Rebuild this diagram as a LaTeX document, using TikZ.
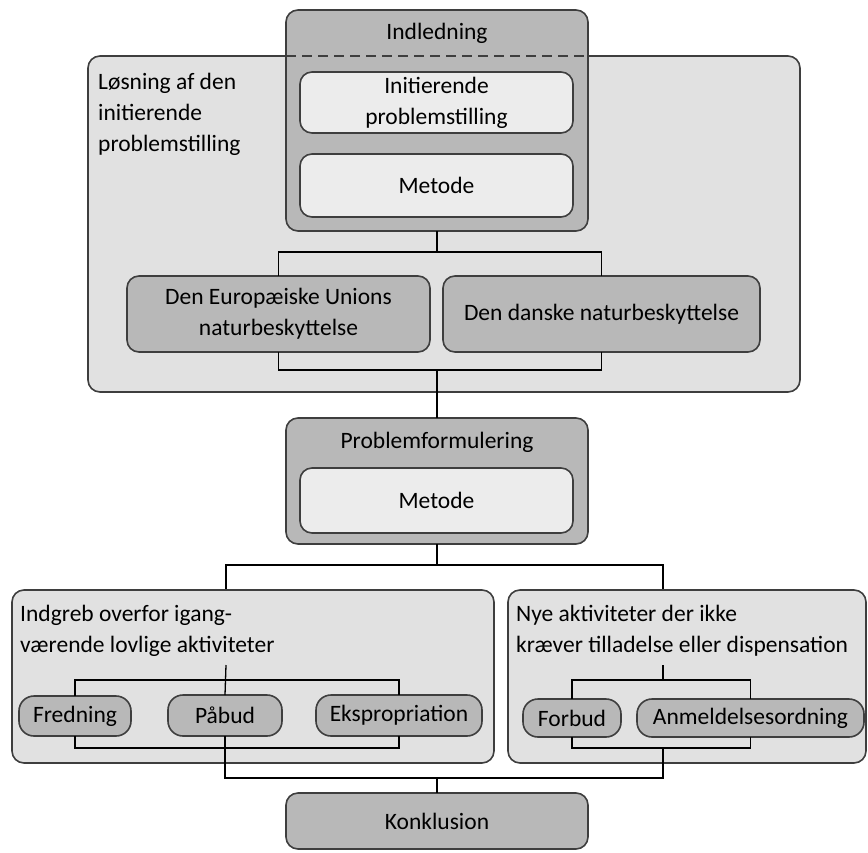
\documentclass[tikz,border=0pt]{standalone}
\usepackage{fontspec}
\setmainfont{Carlito}
\usepackage{tikz}
\usetikzlibrary{fit}
\definecolor{boxmid}{RGB}{184,184,184}
\definecolor{boxlight}{RGB}{225,225,225}
\definecolor{boxpale}{RGB}{236,236,236}
\definecolor{boxline}{RGB}{62,62,62}

\begin{document}
\begin{tikzpicture}[x=1pt,y=-1pt,
		box/.style={draw=boxline,line width=1.6pt,rounded corners=12pt,inner sep=0pt,outer sep=0pt},
		midbox/.style={box,fill=boxmid},
		lightbox/.style={box,fill=boxlight},
		palebox/.style={box,fill=boxpale},
		pill/.style={box,fill=boxmid,rounded corners=15pt},
		txt/.style={inner sep=0pt,align=center,font=\fontsize{23.5}{31}\selectfont},
		link/.style={line width=1.3pt,black}]
	\useasboundingbox (0,0) rectangle (868,852);
	% upper part
	\node[lightbox, fit={(88,56) (800,392)}] (loesning) {};
	\node[txt,anchor=north west,align=left] (loesningtxt) at (98,73) {Løsning af den\\initierende\\problemstilling};
	\node[midbox, fit={(286,10) (588,231)}] (indl) {};
	\draw[boxline,line width=1.6pt,dash pattern=on 10pt off 6pt] (indl.west |- loesning.north) -- (indl.east |- loesning.north);
	\node[txt] (indltxt) at (437,33) {Indledning};
	\node[palebox, fit={(300,72) (573,133)}] (init) {};
	\node[txt] (inittxt) at (init.center) {Initierende\\problemstilling};
	\node[palebox, fit={(300,154) (573,217)}] (metodeA) {};
	\node[txt] (metodeAtxt) at (metodeA.center) {Metode};
	\node[midbox, fit={(127,276) (430,352)}] (eu) {};
	\node[txt] (eutxt) at (eu.center) {Den Europæiske Unions\\naturbeskyttelse};
	\node[midbox, fit={(443,276) (760,352)}] (dk) {};
	\node[txt] (dktxt) at (dk.center) {Den danske naturbeskyttelse};
	\coordinate (forkA) at (437,252);
	\coordinate (joinA) at (437,370);
	\draw[link] (indl.south) -- (forkA);
	\draw[link] (eu.north) |- (forkA) -| (dk.north);
	\draw[link] (eu.south) |- (joinA) -| (dk.south);
	% problemformulering
	\node[midbox, fit={(286,418) (588,544)}] (pf) {};
	\node[txt] (pftxt) at (437,442) {Problemformulering};
	\node[palebox, fit={(300,468) (573,533)}] (metodeB) {};
	\node[txt] (metodeBtxt) at (metodeB.center) {Metode};
	\draw[link] (joinA) -- (pf.north);
	% lower part
	\coordinate (forkB) at (437,565);
	\coordinate (forkL) at (226,590);
	\coordinate (forkR) at (663,590);
	\draw[link] (pf.south) -- (forkB);
	\draw[link] (forkL) |- (forkB) -| (forkR);
	\node[lightbox, fit={(12,590) (494,763)}] (indgreb) {};
	\node[lightbox, fit={(508,590) (866,763)}] (nye) {};
	\node[txt,anchor=north west,align=left] (indgrebtxt) at (20,605) {Indgreb overfor igang-\\værende lovlige aktiviteter};
	\node[txt,anchor=north west,align=left] (nyetxt) at (516,605) {Nye aktiviteter der ikke\\kræver tilladelse eller dispensation};
	\node[pill, fit={(19,696) (131,736)}] (fredning) {};
	\node[txt] (fredningtxt) at (fredning.center) {Fredning};
	\node[pill, fit={(168,695) (282,736)}] (paabud) {};
	\node[txt] (paabudtxt) at (paabud.center) {Påbud};
	\node[pill, fit={(316,695) (482,736)}] (ekspro) {};
	\node[txt] (ekspotxt) at (ekspro.center) {Ekspropriation};
	\node[pill, fit={(523,699) (621,737)}] (forbud) {};
	\node[txt] (forbudtxt) at (forbud.center) {Forbud};
	\node[pill, fit={(637,699) (864,737)}] (anmeld) {};
	\node[txt] (anmeldtxt) at (anmeld.center) {Anmeldelsesordning};
	\coordinate (inL) at (226,665);
	\coordinate (inR) at (663,665);
	\coordinate (topL) at (226,680);
	\coordinate (topR) at (663,680);
	\coordinate (botL) at (226,748);
	\coordinate (botR) at (663,748);
	\coordinate (joinB) at (437,778);
	\draw[link] (inL) -- (paabud.north);
	\draw[link] (fredning.north) |- (topL) -| (ekspro.north);
	\draw[link] (fredning.south) |- (botL) -| (ekspro.south);
	\draw[link] (inR) -- (topR);
	\draw[link] (forbud.north) |- (topR) -| (anmeld.north);
	\draw[link] (forbud.south) |- (botR) -| (anmeld.south);
	\draw[link] (paabud.south) |- (joinB) -| (botR);
	% konklusion
	\node[midbox, fit={(286,793) (588,849)}] (konkl) {};
	\node[txt] (konkltxt) at (konkl.center) {Konklusion};
	\draw[link] (joinB) -- (konkl.north);
\end{tikzpicture}
\end{document}
